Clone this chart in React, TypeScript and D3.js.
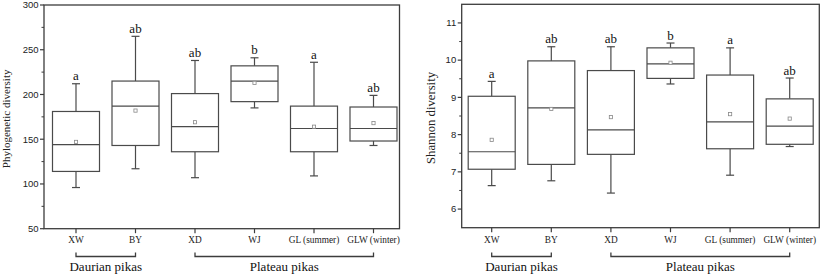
import React from "react";
import * as d3 from "d3";

const categories = ["XW", "BY", "XD", "WJ", "GL (summer)", "GLW (winter)"];

// Phylogenetic diversity: [whiskerLow, q1, median, q3, whiskerHigh, mean]
const pdLow = [96, 117, 107, 185, 109, 143];
const pdQ1 = [114, 143, 136, 192, 136, 148];
const pdMed = [144, 187, 164, 215, 162, 162];
const pdQ3 = [181, 215, 201, 232, 187, 186];
const pdHigh = [212, 265, 238, 241, 236, 199];
const pdMean = [147, 182, 169, 213, 164, 168];
const pdLetters = ["a", "ab", "ab", "b", "a", "ab"];
const pdTicks = [50, 100, 150, 200, 250, 300];
const pdMinor = [75, 125, 175, 225, 275];

// Shannon diversity
const shLow = [6.63, 6.76, 6.43, 9.36, 6.91, 7.68];
const shQ1 = [7.07, 7.2, 7.47, 9.51, 7.62, 7.74];
const shMed = [7.54, 8.72, 8.13, 9.9, 8.34, 8.23];
const shQ3 = [9.03, 9.98, 9.72, 10.33, 9.6, 8.96];
const shHigh = [9.43, 10.36, 10.36, 10.46, 10.33, 9.52];
const shMean = [7.86, 8.69, 8.47, 9.93, 8.55, 8.43];
const shLetters = ["a", "ab", "ab", "b", "a", "ab"];
const shTicks = [6, 7, 8, 9, 10, 11];
const shMinor = [6.5, 7.5, 8.5, 9.5, 10.5];

const groups = [
  { name: "Daurian pikas", from: 0, to: 1 },
  { name: "Plateau pikas", from: 2, to: 5 },
];

const SERIF = "'Liberation Serif', 'Times New Roman', serif";
const SANS = "'Liberation Sans', Arial, sans-serif";
const LINE = "#3c3c3c";
const BOX = "#4a4a4a";

type PanelProps = {
  left: number; right: number; top: number; bottom: number;
  xRange: [number, number];
  yDomain: [number, number];
  ticks: number[]; minor: number[];
  low: number[]; q1: number[]; med: number[]; q3: number[]; high: number[]; mean: number[];
  letters: string[];
  label: string; labelX: number; labelSize: number;
};

function Panel(p: PanelProps) {
  const x = d3.scaleLinear().domain([0, categories.length - 1]).range(p.xRange);
  const y = d3.scaleLinear().domain(p.yDomain).range([p.bottom, p.top]);
  const bw = 47;
  const cap = 4;
  const labelY = (p.top + p.bottom) / 2 + 2;
  const bracketY = 256.5;
  return (
    <g>
      {/* boxes */}
      {categories.map((c, i) => {
        const cx = x(i);
        return (
          <g key={c} stroke={BOX} strokeWidth={1.2} fill="none">
            <line x1={cx} x2={cx} y1={y(p.q3[i])} y2={y(p.high[i])} />
            <line x1={cx - cap} x2={cx + cap} y1={y(p.high[i])} y2={y(p.high[i])} />
            <line x1={cx} x2={cx} y1={y(p.q1[i])} y2={y(p.low[i])} />
            <line x1={cx - cap} x2={cx + cap} y1={y(p.low[i])} y2={y(p.low[i])} />
            <rect x={cx - bw / 2} y={y(p.q3[i])} width={bw} height={y(p.q1[i]) - y(p.q3[i])} fill="#fff" />
            <line x1={cx - bw / 2} x2={cx + bw / 2} y1={y(p.med[i])} y2={y(p.med[i])} />
            <rect x={cx - 1.6} y={y(p.mean[i]) - 1.6} width={3.2} height={3.2} stroke="#888" strokeWidth={0.8} fill="#fff" />
            <text x={cx} y={y(p.high[i]) - 3.5} textAnchor="middle" fontFamily={SERIF} fontSize={13} fill="#111" stroke="none">
              {p.letters[i]}
            </text>
          </g>
        );
      })}
      {/* frame */}
      <rect x={p.left} y={p.top} width={p.right - p.left} height={p.bottom - p.top} fill="none" stroke={LINE} strokeWidth={1.3} />
      {/* y ticks */}
      {p.ticks.map((t) => (
        <g key={"t" + t}>
          <line x1={p.left - 4} x2={p.left} y1={y(t)} y2={y(t)} stroke={LINE} strokeWidth={1.2} />
          <text x={p.left - 5.5} y={y(t) + 3.3} textAnchor="end" fontFamily={SANS} fontSize={9.5} fill="#222">
            {t}
          </text>
        </g>
      ))}
      {p.minor.map((t) => (
        <line key={"m" + t} x1={p.left - 2.5} x2={p.left} y1={y(t)} y2={y(t)} stroke={LINE} strokeWidth={1} />
      ))}
      {/* x ticks */}
      {categories.map((c, i) => (
        <g key={"x" + c}>
          <line x1={x(i)} x2={x(i)} y1={p.bottom} y2={p.bottom + 4.5} stroke={LINE} strokeWidth={1.2} />
          <text x={x(i)} y={243} textAnchor="middle" fontFamily={SERIF} fontSize={9.3} fill="#222">
            {c}
          </text>
        </g>
      ))}
      {/* y label */}
      <text
        transform={`translate(${p.labelX},${labelY}) rotate(-90)`}
        textAnchor="middle"
        fontFamily={SERIF}
        fontSize={p.labelSize}
        fill="#222"
      >
        {p.label}
      </text>
      {/* group brackets */}
      {groups.map((g) => {
        const a = x(g.from);
        const b = x(g.to);
        return (
          <g key={g.name}>
            <path d={`M${a},${bracketY - 4}V${bracketY}H${b}V${bracketY - 4}`} fill="none" stroke={LINE} strokeWidth={1.3} />
            <text x={(a + b) / 2} y={270.5} textAnchor="middle" fontFamily={SERIF} fontSize={13} fill="#111">
              {g.name}
            </text>
          </g>
        );
      })}
    </g>
  );
}

export default function App() {
  return (
    <svg width={821} height={276} style={{ position: "absolute", left: 0, top: 0, background: "#fff" }}>
      <rect width={821} height={276} fill="#fff" />
      <Panel
        left={44} right={399.5} top={5} bottom={228.7}
        xRange={[76, 373.5]}
        yDomain={[50, 300]}
        ticks={pdTicks} minor={pdMinor}
        low={pdLow} q1={pdQ1} med={pdMed} q3={pdQ3} high={pdHigh} mean={pdMean}
        letters={pdLetters}
        label="Phylogenetic diversity" labelX={9.5} labelSize={11}
      />
      <Panel
        left={461.7} right={819.3} top={4.3} bottom={227.7}
        xRange={[491.7, 789.7]}
        yDomain={[5.5, 11.5]}
        ticks={shTicks} minor={shMinor}
        low={shLow} q1={shQ1} med={shMed} q3={shQ3} high={shHigh} mean={shMean}
        letters={shLetters}
        label="Shannon diversity" labelX={435} labelSize={12.7}
      />
    </svg>
  );
}
